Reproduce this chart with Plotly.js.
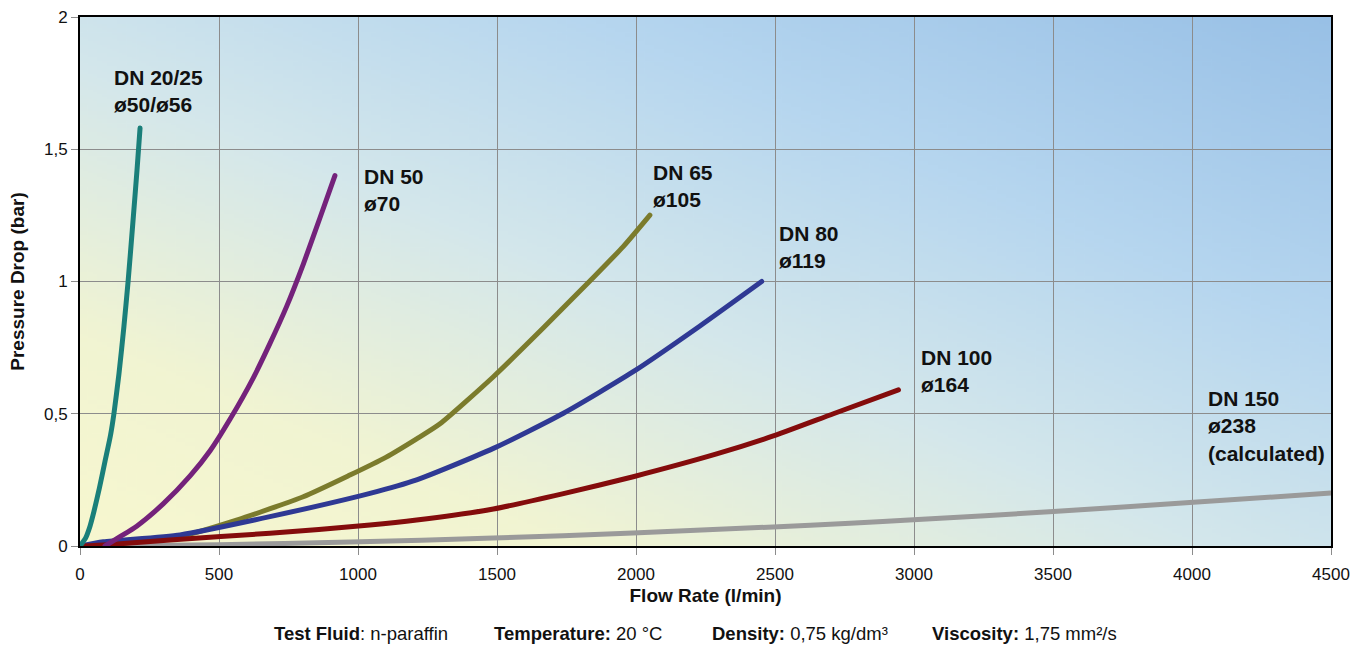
<!DOCTYPE html>
<html>
<head>
<meta charset="utf-8">
<script src="https://cdn.plot.ly/plotly-3.0.1.min.js"></script>
<style>
  html, body { margin: 0; padding: 0; background: #ffffff; }
  #chart { width: 1368px; height: 646px; }
</style>
</head>
<body>
<div id="chart"></div>
<script>
// ---- data ----
const seriesNames = ['DN 150', 'DN 65', 'DN 80', 'DN 100', 'DN 50', 'DN 20/25'];

const flowDN20 = [0, 20, 36, 50, 70, 90, 110, 122, 140, 158, 173, 190, 205, 216];
const dpDN20   = [0, 0.03, 0.075, 0.13, 0.22, 0.32, 0.42, 0.5, 0.65, 0.83, 1.0, 1.22, 1.42, 1.58];

const flowDN50 = [90, 144, 204, 300, 396, 468, 540, 623, 683, 743, 803, 863, 917];
const dpDN50   = [0, 0.035, 0.075, 0.16, 0.265, 0.36, 0.48, 0.635, 0.765, 0.905, 1.065, 1.24, 1.40];

const flowDN65 = [0, 100, 200, 360, 563, 803, 971, 1100, 1211, 1295, 1487, 1667, 1835, 1954, 2050];
const dpDN65   = [0, 0.005, 0.015, 0.036, 0.098, 0.186, 0.268, 0.335, 0.405, 0.462, 0.64, 0.825, 1.003, 1.132, 1.251];

const flowDN80 = [0, 84, 360, 683, 1043, 1211, 1487, 1739, 1990, 2230, 2452];
const dpDN80   = [0, 0.016, 0.042, 0.111, 0.199, 0.25, 0.369, 0.502, 0.659, 0.832, 1.0];

const flowDN100 = [0, 100, 324, 683, 1043, 1211, 1487, 1739, 1990, 2290, 2494, 2710, 2944];
const dpDN100   = [0, 0.005, 0.023, 0.048, 0.079, 0.098, 0.14, 0.198, 0.262, 0.348, 0.416, 0.5, 0.59];

const flowDN150 = [0, 500, 971, 1486, 1989, 2493, 2770, 2998, 3501, 4005, 4500];
const dpDN150   = [0, 0.005, 0.015, 0.03, 0.049, 0.072, 0.086, 0.099, 0.13, 0.165, 0.2];

const xTickVals = [0, 500, 1000, 1500, 2000, 2500, 3000, 3500, 4000, 4500];
const xTickText = ['0', '500', '1000', '1500', '2000', '2500', '3000', '3500', '4000', '4500'];
const yTickVals = [0, 0.5, 1, 1.5, 2];
const yTickText = ['0', '0,5', '1', '1,5', '2'];

const curveLabels = [
  'DN 20/25<br>ø50/ø56',
  'DN 50<br>ø70',
  'DN 65<br>ø105',
  'DN 80<br>ø119',
  'DN 100<br>ø164',
  'DN 150<br>ø238<br>(calculated)'
];
const labelX = [115, 1014, 2053, 2507, 3018, 4050];
const labelY = [1.722, 1.345, 1.360, 1.132, 0.660, 0.452];

const footItems = [
  '<b>Test Fluid</b>: n-paraffin',
  '<b>Temperature:</b> 20 °C',
  '<b>Density:</b> 0,75 kg/dm³',
  '<b>Viscosity:</b> 1,75 mm²/s'
];
const footLeftPx = [272, 492, 710, 930];

// ---- styles ----
const FONT = '"Liberation Sans", Arial, Helvetica, sans-serif';
const colors = {
  'DN 150': '#9a9a9a', 'DN 65': '#7b7b2c', 'DN 80': '#2f3994',
  'DN 100': '#840c0c', 'DN 50': '#74227b', 'DN 20/25': '#1a7f7a'
};
const seriesData = {
  'DN 150': [flowDN150, dpDN150], 'DN 65': [flowDN65, dpDN65], 'DN 80': [flowDN80, dpDN80],
  'DN 100': [flowDN100, dpDN100], 'DN 50': [flowDN50, dpDN50], 'DN 20/25': [flowDN20, dpDN20]
};

const traces = seriesNames.map(n => ({
  type: 'scatter', mode: 'lines', name: n,
  x: seriesData[n][0], y: seriesData[n][1],
  line: { color: colors[n], width: 5, shape: 'spline', smoothing: 0.6 },
  hoverinfo: 'skip'
}));

// gradient background (diagonal in normalized plot space)
const cv = document.createElement('canvas');
cv.width = 256; cv.height = 256;
const ctx = cv.getContext('2d');
const g = ctx.createLinearGradient(0, 256, 256, 0);
g.addColorStop(0.00, '#f7f7cf');
g.addColorStop(0.20, '#f1f4d2');
g.addColorStop(0.45, '#d4e7eb');
g.addColorStop(0.70, '#b6d6ef');
g.addColorStop(1.00, '#98c0e6');
ctx.fillStyle = g;
ctx.fillRect(0, 0, 256, 256);
const bgURL = cv.toDataURL('image/png');

const mL = 80, mR = 37, mT = 17, mB = 100;
const plotW = 1368 - mL - mR, plotH = 646 - mT - mB;

const annotations = curveLabels.map((t, i) => ({
  x: labelX[i], y: labelY[i], xref: 'x', yref: 'y',
  text: t, showarrow: false, xanchor: 'left', yanchor: 'middle', align: 'left',
  font: { family: FONT, size: 21, color: '#111111', weight: 'bold' }
})).concat(footItems.map((t, i) => ({
  x: (footLeftPx[i] - mL) / plotW, y: (mT + plotH - 633) / plotH,
  xref: 'paper', yref: 'paper', text: t, showarrow: false,
  xanchor: 'left', yanchor: 'middle',
  font: { family: FONT, size: 18.5, color: '#111111' }
})));

const axisCommon = {
  showline: true, linecolor: '#000000', linewidth: 2, mirror: true,
  showgrid: true, gridcolor: '#8c8c8c', gridwidth: 1,
  zeroline: false, ticks: 'outside', ticklen: 7, tickcolor: '#8c8c8c', tickwidth: 1,
  tickfont: { family: FONT, size: 17, color: '#111111' },
  tickmode: 'array', fixedrange: true
};

const layout = {
  width: 1368, height: 646,
  margin: { l: mL, r: mR, t: mT, b: mB, pad: 0 },
  paper_bgcolor: '#ffffff', plot_bgcolor: 'rgba(0,0,0,0)',
  showlegend: false,
  xaxis: Object.assign({}, axisCommon, {
    range: [0, 4500], tickvals: xTickVals, ticktext: xTickText,
    ticklabelstandoff: 5,
    title: { text: '<b>Flow Rate (l/min)</b>', standoff: 5,
             font: { family: FONT, size: 19, color: '#111111' } }
  }),
  yaxis: Object.assign({}, axisCommon, {
    range: [0, 2], tickvals: yTickVals, ticktext: yTickText,
    title: { text: '<b>Pressure Drop (bar)</b>', standoff: 14,
             font: { family: FONT, size: 19, color: '#111111' } }
  }),
  images: [{
    source: bgURL, xref: 'paper', yref: 'paper', x: 0, y: 1, sizex: 1, sizey: 1,
    sizing: 'stretch', xanchor: 'left', yanchor: 'top', layer: 'below'
  }],
  annotations: annotations
};

Plotly.newPlot('chart', traces, layout, { displayModeBar: false, staticPlot: true }).then(gd => {
  gd.querySelectorAll('.scatterlayer path.js-line').forEach(p => {
    p.style.strokeLinecap = 'round';
    p.style.strokeLinejoin = 'round';
  });
});
</script>
</body>
</html>
